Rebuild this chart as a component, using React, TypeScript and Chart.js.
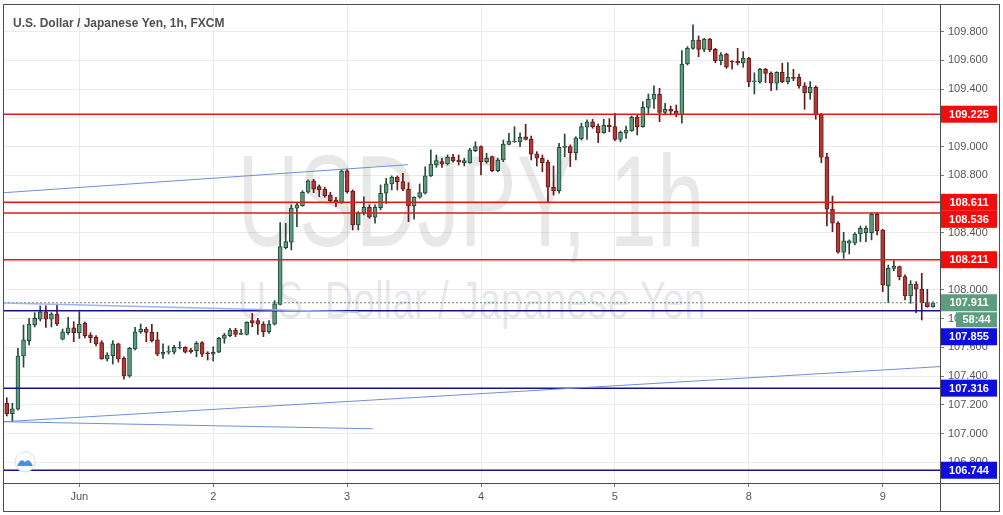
import React, { useEffect, useRef } from "react";
import { Chart, registerables } from "chart.js";

Chart.register(...registerables);

const TITLE = "U.S. Dollar / Japanese Yen, 1h, FXCM";
const WATERMARK_MAIN = "USDJPY, 1h";
const WATERMARK_SUB = "U.S. Dollar / Japanese Yen";

const opens = [
  107.211, 107.138, 107.169, 107.540, 107.647, 107.756, 107.796, 107.847, 107.796, 107.833,
  107.657, 107.702, 107.737, 107.702, 107.768, 107.686, 107.670, 107.633, 107.519, 107.542,
  107.624, 107.524, 107.401, 107.589, 107.709, 107.728, 107.705, 107.652, 107.552, 107.566,
  107.566, 107.596, 107.601, 107.582, 107.577, 107.633, 107.559, 107.552, 107.566, 107.663,
  107.682, 107.721, 107.691, 107.691, 107.786, 107.786, 107.761, 107.709, 107.761, 107.900,
  108.295, 108.333, 108.570, 108.588, 108.681, 108.760, 108.720, 108.704, 108.662, 108.627,
  108.611, 108.831, 108.690, 108.453, 108.535, 108.576, 108.507, 108.574, 108.674, 108.739,
  108.786, 108.755, 108.702, 108.585, 108.646, 108.674, 108.795, 108.871, 108.894, 108.878,
  108.925, 108.906, 108.887, 108.887, 108.971, 108.999, 108.894, 108.929, 108.831, 108.906,
  109.015, 109.031, 109.031, 109.068, 109.052, 108.948, 108.918, 108.890, 108.716, 108.692,
  108.994, 108.999, 108.957, 109.052, 109.134, 109.171, 109.143, 109.096, 109.148, 109.138,
  109.050, 109.092, 109.110, 109.204, 109.138, 109.273, 109.329, 109.366, 109.238, 109.259,
  109.247, 109.220, 109.575, 109.684, 109.742, 109.677, 109.749, 109.677, 109.598, 109.643,
  109.596, 109.594, 109.582, 109.615, 109.450, 109.450, 109.538, 109.510, 109.441, 109.517,
  109.452, 109.482, 109.482, 109.422, 109.375, 109.413, 109.220, 108.925, 108.563, 108.465,
  108.263, 108.326, 108.326, 108.390, 108.400, 108.400, 108.528, 108.418, 108.030, 108.151,
  108.163, 108.093, 107.958, 108.042, 108.005, 107.912, 107.884,
];

const highs = [
  107.249, 107.211, 107.594, 107.756, 107.803, 107.842, 107.889, 107.889, 107.842, 107.896,
  107.728, 107.810, 107.779, 107.849, 107.779, 107.702, 107.682, 107.647, 107.563, 107.647,
  107.629, 107.535, 107.601, 107.740, 107.763, 107.740, 107.761, 107.705, 107.624, 107.610,
  107.615, 107.640, 107.605, 107.594, 107.640, 107.640, 107.570, 107.605, 107.670, 107.698,
  107.733, 107.733, 107.726, 107.779, 107.837, 107.803, 107.779, 107.786, 107.926, 108.469,
  108.465, 108.593, 108.609, 108.692, 108.767, 108.772, 108.732, 108.716, 108.681, 108.646,
  108.841, 108.841, 108.697, 108.546, 108.650, 108.593, 108.593, 108.732, 108.779, 108.795,
  108.795, 108.813, 108.748, 108.650, 108.739, 108.859, 108.976, 108.941, 108.918, 108.941,
  108.946, 108.941, 108.918, 108.988, 109.033, 109.004, 108.953, 108.934, 108.918, 109.045,
  109.092, 109.138, 109.096, 109.155, 109.073, 108.964, 108.941, 108.906, 108.864, 109.022,
  109.087, 109.011, 109.068, 109.162, 109.185, 109.190, 109.157, 109.190, 109.194, 109.231,
  109.108, 109.143, 109.213, 109.220, 109.312, 109.366, 109.422, 109.406, 109.301, 109.282,
  109.289, 109.668, 109.696, 109.847, 109.770, 109.754, 109.754, 109.684, 109.654, 109.650,
  109.598, 109.684, 109.661, 109.622, 109.514, 109.545, 109.545, 109.521, 109.521, 109.580,
  109.584, 109.538, 109.505, 109.445, 109.452, 109.422, 109.231, 108.953, 108.655, 108.476,
  108.402, 108.349, 108.400, 108.446, 108.446, 108.539, 108.539, 108.423, 108.174, 108.204,
  108.167, 108.105, 108.065, 108.058, 108.116, 108.005, 107.918,
];

const lows = [
  107.122, 107.082, 107.164, 107.462, 107.617, 107.742, 107.784, 107.740, 107.742, 107.751,
  107.652, 107.691, 107.640, 107.663, 107.666, 107.633, 107.610, 107.517, 107.505, 107.484,
  107.498, 107.378, 107.392, 107.582, 107.698, 107.640, 107.638, 107.542, 107.524, 107.554,
  107.554, 107.589, 107.561, 107.559, 107.535, 107.535, 107.512, 107.505, 107.563, 107.629,
  107.675, 107.675, 107.689, 107.686, 107.744, 107.691, 107.675, 107.698, 107.756, 107.896,
  108.286, 108.279, 108.441, 108.583, 108.674, 108.678, 108.650, 108.646, 108.609, 108.581,
  108.604, 108.674, 108.418, 108.418, 108.523, 108.500, 108.465, 108.558, 108.604, 108.697,
  108.697, 108.692, 108.476, 108.493, 108.639, 108.669, 108.790, 108.855, 108.855, 108.871,
  108.890, 108.871, 108.864, 108.883, 108.964, 108.802, 108.883, 108.824, 108.824, 108.894,
  109.011, 109.029, 108.999, 109.045, 108.906, 108.864, 108.824, 108.609, 108.662, 108.674,
  108.929, 108.859, 108.906, 109.045, 109.050, 109.127, 109.027, 109.092, 109.103, 109.041,
  109.033, 109.057, 109.106, 109.080, 109.134, 109.231, 109.266, 109.173, 109.220, 109.220,
  109.208, 109.162, 109.568, 109.677, 109.626, 109.661, 109.661, 109.584, 109.568, 109.545,
  109.538, 109.568, 109.552, 109.417, 109.366, 109.441, 109.445, 109.389, 109.394, 109.445,
  109.436, 109.459, 109.406, 109.259, 109.329, 109.190, 108.887, 108.446, 108.406, 108.256,
  108.221, 108.251, 108.314, 108.337, 108.337, 108.349, 108.383, 107.988, 107.912, 108.135,
  108.070, 107.930, 107.907, 107.842, 107.791, 107.880, 107.880,
];

const closes = [
  107.136, 107.171, 107.540, 107.652, 107.763, 107.803, 107.847, 107.796, 107.833, 107.763,
  107.709, 107.737, 107.702, 107.763, 107.682, 107.668, 107.624, 107.519, 107.547, 107.624,
  107.519, 107.401, 107.594, 107.709, 107.728, 107.705, 107.647, 107.552, 107.566, 107.575,
  107.601, 107.601, 107.566, 107.570, 107.629, 107.552, 107.556, 107.566, 107.663, 107.686,
  107.721, 107.691, 107.695, 107.775, 107.772, 107.761, 107.709, 107.761, 107.903, 108.302,
  108.337, 108.570, 108.593, 108.681, 108.760, 108.702, 108.697, 108.657, 108.622, 108.611,
  108.829, 108.685, 108.453, 108.535, 108.576, 108.507, 108.576, 108.674, 108.739, 108.786,
  108.755, 108.702, 108.585, 108.646, 108.678, 108.795, 108.878, 108.901, 108.878, 108.925,
  108.901, 108.894, 108.901, 108.976, 108.999, 108.894, 108.918, 108.831, 108.906, 109.017,
  109.038, 109.038, 109.064, 109.050, 108.946, 108.918, 108.887, 108.716, 108.692, 108.994,
  108.997, 108.957, 109.061, 109.138, 109.171, 109.138, 109.096, 109.148, 109.138, 109.050,
  109.099, 109.115, 109.204, 109.138, 109.273, 109.329, 109.366, 109.238, 109.259, 109.247,
  109.220, 109.575, 109.684, 109.742, 109.677, 109.749, 109.673, 109.598, 109.638, 109.552,
  109.589, 109.582, 109.615, 109.452, 109.457, 109.538, 109.510, 109.441, 109.517, 109.452,
  109.482, 109.475, 109.422, 109.375, 109.413, 109.220, 108.925, 108.563, 108.465, 108.263,
  108.342, 108.342, 108.390, 108.430, 108.430, 108.528, 108.413, 108.035, 108.151, 108.167,
  108.093, 107.958, 108.042, 108.005, 107.912, 107.884, 107.911,
];

const dayTickIndex = [13, 37, 61, 85, 109, 133, 157];
const dayTickLabels = ["Jun", "2", "3", "4", "5", "8", "9"];
const yTickValues = [
  106.8, 107.0, 107.2, 107.4, 107.6, 107.8, 108.0, 108.2, 108.4, 108.6, 108.8, 109.0, 109.2,
  109.4, 109.6, 109.8,
];

const resistanceLevels = [109.225, 108.611, 108.536, 108.211];
const supportLevels = [107.855, 107.316, 106.744];
const lastPrice = 107.911;
const countdownLabel = "58:44";

const X_MIN = -0.5;
const X_MAX = 167.27;
const Y_MIN = 106.655;
const Y_MAX = 109.986;

// trendlines as [candle index, price] pairs
const trendUpper = [[X_MIN, 108.678], [71.9, 108.873]];
const trendFlat = [[X_MIN, 107.909], [62.95, 107.847]];
const trendRising = [[X_MIN, 107.082], [X_MAX, 107.466]];
const trendFalling = [[X_MIN, 107.082], [65.6, 107.033]];

const UP_FILL = "#5a9c7b";
const UP_BORDER = "#24483a";
const DOWN_FILL = "#b33838";
const DOWN_BORDER = "#641a1a";
const RED = "#e01b1b";
const NAVY = "#14148c";
const BOX_RED = "#f40c0c";
const BOX_BLUE = "#0d0de0";
const BOX_GREEN = "#5e9c80";
const TREND = "#6f90d8";
const GRID = "#ebebeb";
const FONT = '"Liberation Sans", Arial, sans-serif';

function drawStretched(ctx: CanvasRenderingContext2D, text: string, font: string, cx: number, baseline: number, width: number) {
  ctx.font = font;
  const w = ctx.measureText(text).width;
  ctx.save();
  ctx.translate(cx, baseline);
  ctx.scale(width / w, 1);
  ctx.textAlign = "center";
  ctx.textBaseline = "alphabetic";
  ctx.fillText(text, 0, 0);
  ctx.restore();
}

const overlayPlugin = {
  id: "overlay",
  beforeDatasetsDraw(chart: any) {
    const { ctx, chartArea } = chart;
    ctx.save();
    ctx.beginPath();
    ctx.rect(chartArea.left, chartArea.top, chartArea.right - chartArea.left, chartArea.bottom - chartArea.top);
    ctx.clip();
    ctx.fillStyle = "rgba(0,0,0,0.09)";
    drawStretched(ctx, WATERMARK_MAIN, `130px ${FONT}`, 471, 246, 467);
    ctx.fillStyle = "rgba(40,50,90,0.11)";
    drawStretched(ctx, WATERMARK_SUB, `52px ${FONT}`, 472, 318, 468);
    ctx.restore();
  },
  afterDraw(chart: any) {
    const { ctx, scales } = chart;
    const ys = scales.y;
    ctx.save();
    // title
    ctx.font = `bold 12px ${FONT}`;
    ctx.fillStyle = "#505050";
    ctx.textAlign = "left";
    ctx.textBaseline = "alphabetic";
    ctx.fillText(TITLE, 13, 27);

    // frame and separators
    ctx.strokeStyle = "#4d4d4d";
    ctx.lineWidth = 1;
    ctx.strokeRect(3.5, 4.5, 996, 507);
    ctx.beginPath();
    ctx.moveTo(940.5, 483);
    ctx.lineTo(940.5, 511);
    ctx.moveTo(4, 483.5);
    ctx.lineTo(999, 483.5);
    ctx.stroke();

    // price boxes with simple collision stacking
    const items: any[] = [
      ...resistanceLevels.map((v) => ({ v, kind: "red" })),
      ...supportLevels.map((v) => ({ v, kind: "blue" })),
      { v: lastPrice, kind: "last" },
    ].map((it) => {
      const cy = ys.getPixelForValue(it.v);
      const h = it.kind === "last" ? 34 : 17;
      return { ...it, top: cy - 8.5, h };
    });
    items.sort((a, b) => a.top - b.top);
    let prevBottom = -1e9;
    for (const it of items) {
      if (it.top < prevBottom) it.top = prevBottom;
      prevBottom = it.top + it.h;
    }
    ctx.font = `bold 11px ${FONT}`;
    ctx.textAlign = "center";
    ctx.textBaseline = "middle";
    for (const it of items) {
      const color = it.kind === "red" ? BOX_RED : it.kind === "blue" ? BOX_BLUE : BOX_GREEN;
      ctx.fillStyle = color;
      ctx.fillRect(941, it.top, 56, 17);
      ctx.fillStyle = "#ffffff";
      ctx.fillText(it.v.toFixed(3), 969, it.top + 9);
      if (it.kind === "last") {
        ctx.fillStyle = BOX_GREEN;
        ctx.fillRect(956, it.top + 18, 41, 15);
        ctx.fillStyle = "#ffffff";
        ctx.fillText(countdownLabel, 976.5, it.top + 26);
      }
    }

    // small logo bottom-left
    ctx.beginPath();
    ctx.arc(25, 462, 10, 0, Math.PI * 2);
    ctx.fillStyle = "#ffffff";
    ctx.fill();
    ctx.strokeStyle = "#d9dde6";
    ctx.stroke();
    ctx.beginPath();
    ctx.moveTo(17, 466);
    ctx.quadraticCurveTo(21, 457, 25, 462);
    ctx.quadraticCurveTo(29, 457, 33, 466);
    ctx.closePath();
    ctx.fillStyle = "#4e8fe0";
    ctx.fill();
    ctx.restore();
  },
};

export default function App() {
  const ref = useRef<HTMLCanvasElement>(null);
  useEffect(() => {
    const canvas = ref.current;
    if (!canvas) return;
    const idx = opens.map((_, i) => i);
    const up = idx.map((i) => closes[i] >= opens[i]);
    const lineDs = (pts: number[][], color: string, width: number, dash: number[] = []) => ({
      type: "line" as const,
      data: pts.map(([x, y]) => ({ x, y })),
      borderColor: color,
      borderWidth: width,
      borderDash: dash,
      pointRadius: 0,
      fill: false,
      tension: 0,
      order: 0,
    });
    const chart = new Chart(canvas, {
      type: "bar",
      data: {
        datasets: [
          {
            type: "bar",
            label: "body",
            data: idx.map((i) => ({ x: i, y: [opens[i], closes[i]] })) as any,
            backgroundColor: idx.map((i) => (up[i] ? UP_FILL : DOWN_FILL)),
            borderColor: idx.map((i) => (up[i] ? UP_BORDER : DOWN_BORDER)),
            borderWidth: 1,
            borderSkipped: false,
            barThickness: 4,
            minBarLength: 1,
            grouped: false,
            order: 1,
          } as any,
          {
            type: "bar",
            label: "wick",
            data: idx.map((i) => ({ x: i, y: [lows[i], highs[i]] })) as any,
            backgroundColor: idx.map((i) => (up[i] ? UP_BORDER : DOWN_BORDER)),
            borderWidth: 0,
            barThickness: 1,
            grouped: false,
            order: 2,
          } as any,
          lineDs(trendUpper, TREND, 1),
          lineDs(trendFlat, "#9fb4ea", 1.5),
          lineDs(trendRising, TREND, 1),
          lineDs(trendFalling, TREND, 1),
          ...resistanceLevels.map((v) => lineDs([[X_MIN, v], [X_MAX, v]], RED, 1.5)),
          ...supportLevels.map((v) => lineDs([[X_MIN, v], [X_MAX, v]], NAVY, 1.5)),
          lineDs([[X_MIN, lastPrice], [X_MAX, lastPrice]], "#5f8a74", 1, [2, 2]),
        ] as any,
      },
      options: {
        responsive: false,
        animation: false,
        devicePixelRatio: 1,
        layout: { padding: { left: 4, top: 5, right: 0, bottom: 0 } },
        plugins: {
          legend: { display: false },
          tooltip: { enabled: false },
          title: { display: false },
        },
        scales: {
          x: {
            type: "linear",
            min: X_MIN,
            max: X_MAX,
            offset: false,
            position: "bottom",
            afterBuildTicks: (s: any) => {
              s.ticks = dayTickIndex.map((v) => ({ value: v }));
            },
            afterFit: (s: any) => {
              s.height = 32;
              s.paddingLeft = 0;
              s.paddingRight = 0;
            },
            ticks: {
              callback: (_v: any, i: number) => dayTickLabels[i],
              color: "#555555",
              font: { family: FONT, size: 11 },
              padding: 3,
              maxRotation: 0,
              autoSkip: false,
            },
            grid: { color: GRID, tickColor: "#777777", tickLength: 4, offset: false },
            border: { color: "#4d4d4d", width: 1 },
          },
          y: {
            type: "linear",
            position: "right",
            min: Y_MIN,
            max: Y_MAX,
            afterBuildTicks: (s: any) => {
              s.ticks = yTickValues.map((v) => ({ value: v }));
            },
            afterFit: (s: any) => {
              s.width = 63;
              s.paddingTop = 0;
              s.paddingBottom = 0;
            },
            ticks: {
              callback: (v: any) => Number(v).toFixed(3),
              color: "#555555",
              font: { family: FONT, size: 11 },
              padding: 4,
              autoSkip: false,
            },
            grid: { color: GRID, tickColor: "#777777", tickLength: 4 },
            border: { color: "#4d4d4d", width: 1 },
          },
        },
      } as any,
      plugins: [overlayPlugin],
    });
    return () => chart.destroy();
  }, []);
  return (
    <div style={{ position: "fixed", left: 0, top: 0, width: 1003, height: 515, background: "#ffffff" }}>
      <canvas ref={ref} width={1003} height={515} style={{ display: "block" }} />
    </div>
  );
}
